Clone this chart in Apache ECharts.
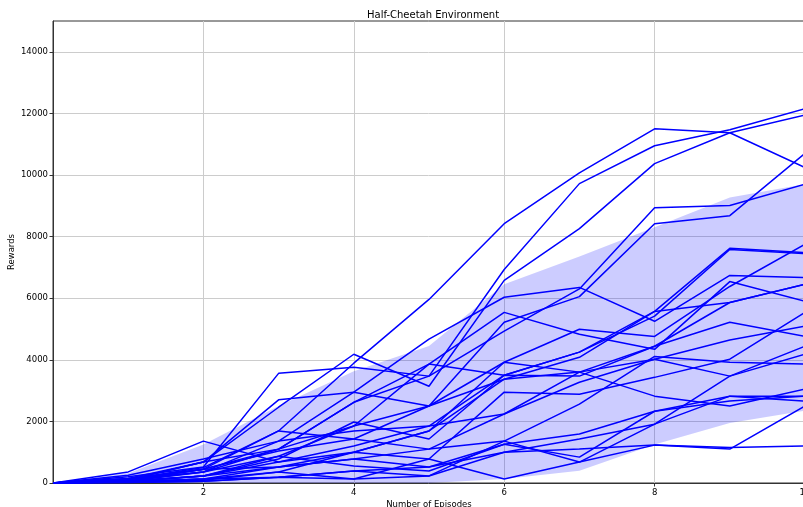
<!DOCTYPE html>
<html>
<head>
<meta charset="utf-8">
<script src="https://cdn.jsdelivr.net/npm/echarts@6/dist/echarts.min.js"></script>
<style>
  html, body { margin: 0; padding: 0; background: #fff; }
  #chart { width: 803px; height: 507px; }
</style>
</head>
<body>
<div id="chart"></div>
<script>
// Episodes 0..10
const episodes = [0, 1, 2, 3, 4, 5, 6, 7, 8, 9, 10];

// Reward curves, one per run
const run01 = [0, 120, 500, 1690, 3890, 5960, 8420, 10070, 11500, 11370, 10240];
const run02 = [0, 200, 520, 3560, 3760, 3470, 6930, 9720, 10950, 11470, 12150];
const run03 = [0, 100, 680, 2460, 4180, 3140, 6580, 8260, 10370, 11370, 11950];
const run04 = [0, 150, 450, 1100, 2620, 3470, 4930, 6300, 8940, 9010, 9700];
const run05 = [0, 90, 360, 870, 1850, 2500, 5220, 6050, 8420, 8680, 10700];
const run06 = [0, 250, 780, 1360, 2950, 4670, 6030, 6350, 5250, 6740, 6670];
const run07 = [0, 100, 450, 1040, 1430, 2500, 3370, 4080, 5570, 7620, 7480];
const run08 = [0, 60, 230, 680, 1200, 1850, 3500, 4250, 5420, 7580, 7450];
const run09 = [0, 50, 230, 520, 1000, 1690, 3920, 4990, 4760, 6380, 7750];
const run10 = [0, 360, 1360, 680, 1000, 1690, 3370, 3600, 4440, 5860, 6450];
const run11 = [0, 130, 360, 1100, 2620, 3860, 5540, 4830, 4340, 6540, 5900];
const run12 = [0, 50, 230, 780, 1980, 1430, 3500, 3470, 4440, 5220, 4760];
const run13 = [0, 40, 130, 520, 780, 1100, 2240, 3270, 4020, 4640, 5090];
const run14 = [0, 30, 130, 360, 1000, 780, 2950, 2880, 3430, 4020, 5540];
const run15 = [0, 100, 450, 1690, 1430, 1100, 1360, 2560, 4110, 3920, 3860];
const run16 = [0, 60, 360, 1360, 1690, 1850, 2240, 3600, 4020, 3470, 4180];
const run17 = [0, 150, 680, 2700, 2950, 2500, 3920, 3600, 2820, 2500, 3050];
const run18 = [0, 70, 230, 870, 550, 390, 1260, 1590, 2330, 2820, 2820];
const run19 = [0, 80, 450, 520, 780, 520, 1000, 1430, 1910, 2820, 2660];
const run20 = [0, 40, 130, 190, 390, 230, 1360, 680, 1910, 3470, 4440];
const run21 = [0, 30, 90, 360, 130, 780, 130, 680, 1230, 1100, 2500];
const run22 = [0, 20, 60, 190, 130, 230, 1000, 1100, 1230, 1150, 1200];
const run23 = [0, 110, 680, 1100, 1850, 3860, 3500, 4250, 5570, 5860, 6450];
const run24 = [0, 20, 60, 190, 390, 520, 1260, 840, 2330, 2660, 2820];

const runs = [run01, run02, run03, run04, run05, run06, run07, run08, run09, run10, run11, run12,
              run13, run14, run15, run16, run17, run18, run19, run20, run21, run22, run23, run24];

// Spread band (mean +/- std)
const bandUpper = [0, 320, 1250, 2500, 3630, 4450, 6450, 7350, 8300, 9270, 9700];
const bandLower = [0, 0, 0, 0, 0, 0, 130, 400, 1250, 1950, 2350];

// Axis ticks
const xTicks = [2, 4, 6, 8, 10];
const yTicks = [0, 2000, 4000, 6000, 8000, 10000, 12000, 14000];

const FONT = 'DejaVu Sans';

// Shaded band: one polygon through the upper edge and back along the lower edge
const bandSeries = {
  type: 'custom', z: 1, silent: true,
  data: episodes.map((e, i) => [e, bandLower[i], bandUpper[i]]),
  encode: { x: 0, y: [1, 2] },
  renderItem: function (params, api) {
    if (params.dataIndex !== 0) return null;
    const top = episodes.map((e, i) => api.coord([e, bandUpper[i]]));
    const bottom = episodes.map((e, i) => api.coord([e, bandLower[i]])).reverse();
    const cs = params.coordSys;
    return {
      type: 'polygon',
      shape: { points: top.concat(bottom) },
      style: { fill: 'rgba(0,0,255,0.2)', stroke: 'none' },
      clipPath: { type: 'rect', shape: { x: cs.x, y: cs.y, width: cs.width, height: cs.height } }
    };
  }
};

const runSeries = runs.map(r => ({
  type: 'line', z: 3,
  data: episodes.map((e, i) => [e, r[i]]),
  symbol: 'none',
  lineStyle: { color: '#0000ff', width: 1.5 },
  emphasis: { disabled: true }
}));

const plain = v => String(v);

const chart = echarts.init(document.getElementById('chart'), null, { renderer: 'canvas' });
chart.setOption({
  animation: false,
  backgroundColor: '#ffffff',
  title: {
    text: 'Half-Cheetah Environment',
    left: 362, top: 5,
    textStyle: { fontFamily: FONT, fontSize: 10, fontWeight: 'normal', color: '#000' }
  },
  grid: {
    left: 53, top: 21, width: 752, height: 462,
    outerBoundsMode: 'none', containLabel: false,
    show: true, borderColor: '#333', borderWidth: 1, backgroundColor: 'transparent'
  },
  xAxis: {
    type: 'value', min: 0, max: 10, interval: 2,
    name: 'Number of Episodes', nameLocation: 'middle', nameGap: 17, nameMoveOverlap: false,
    nameTextStyle: { fontFamily: FONT, fontSize: 8.5, color: '#000' },
    axisLine: { show: true, lineStyle: { color: '#333', width: 1 } },
    axisTick: { show: true, length: 3.5, customValues: xTicks, lineStyle: { color: '#333' } },
    axisLabel: { customValues: xTicks, formatter: plain, margin: 5, fontFamily: FONT, fontSize: 8.5, color: '#000', hideOverlap: false },
    splitLine: { show: true, lineStyle: { color: '#cccccc', width: 1 } }
  },
  yAxis: {
    type: 'value', min: 0, max: 15000, interval: 2000,
    name: 'Rewards', nameLocation: 'middle', nameGap: 37, nameRotate: 90, nameMoveOverlap: false,
    nameTextStyle: { fontFamily: FONT, fontSize: 8.5, color: '#000' },
    axisLine: { show: true, lineStyle: { color: '#333', width: 1 } },
    axisTick: { show: true, length: 3.5, customValues: yTicks, lineStyle: { color: '#333' } },
    axisLabel: { customValues: yTicks, formatter: plain, margin: 5, fontFamily: FONT, fontSize: 8.5, color: '#000' },
    splitLine: { show: true, lineStyle: { color: '#cccccc', width: 1 } }
  },
  series: [bandSeries].concat(runSeries)
});
</script>
</body>
</html>
